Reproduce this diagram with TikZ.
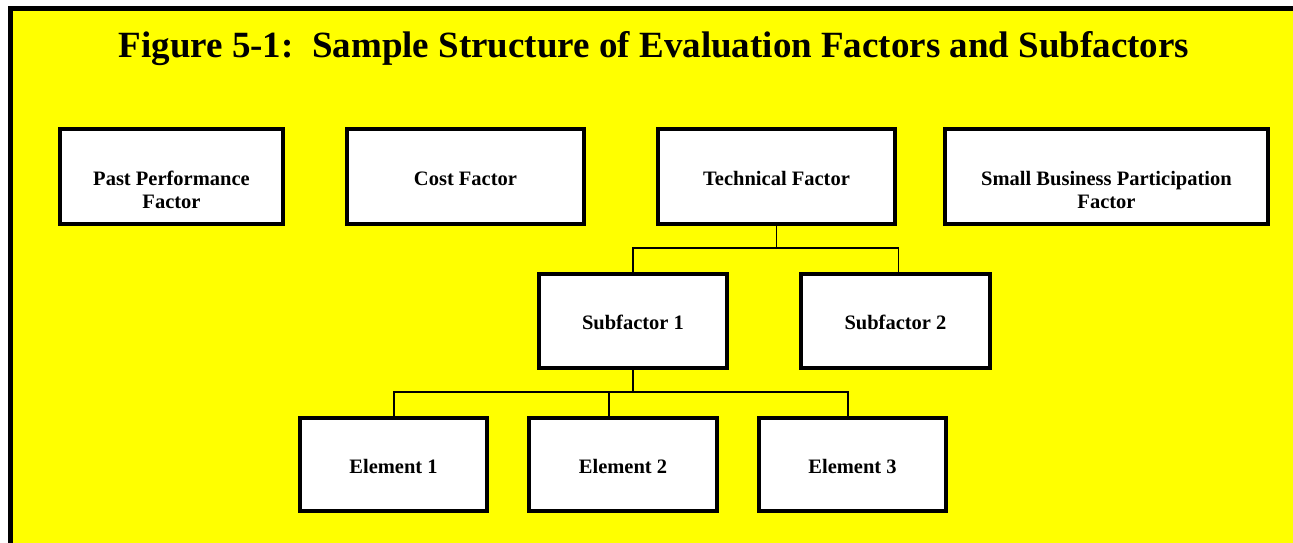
\documentclass[tikz,border=0pt]{standalone}
\usepackage{fontspec}
\setmainfont{Liberation Serif}
\definecolor{bgyellow}{HTML}{FFFF00}
\tikzset{
  box/.style={draw=black, fill=white, line width=4pt, inner sep=0pt, outer sep=0pt, anchor=north west},
  txt/.style={font=\fontsize{20.5}{23.3}\selectfont\bfseries, align=center, inner sep=0pt, anchor=base},
  conn/.style={draw=black, line width=1.4pt},
  ttl/.style={font=\fontsize{37}{40}\selectfont\bfseries, inner sep=0pt, anchor=base}
}
\begin{document}
\begin{tikzpicture}[x=1pt,y=-1pt]
\useasboundingbox (0,0) rectangle (1293,542);
\fill[white] (0,0) rectangle (1293,542);
\begin{scope}
\clip (0,0) rectangle (1293,542);
\draw[line width=5pt, fill=bgyellow] (10,8) rectangle (1320,570);
\end{scope}
\node[ttl] (title) at (654,57) {Figure 5-1:\ \ Sample Structure of Evaluation Factors and Subfactors};
% top row
\node[box, minimum width=223pt, minimum height=95pt] (pp) at (60,129) {};
\node[box, minimum width=237pt, minimum height=95pt] (cost) at (347,129) {};
\node[box, minimum width=237pt, minimum height=95pt] (tech) at (658,129) {};
\node[box, minimum width=323pt, minimum height=95pt] (sb) at (945,129) {};
% subfactors
\node[box, minimum width=188pt, minimum height=94pt] (s1) at (539,274) {};
\node[box, minimum width=189pt, minimum height=94pt] (s2) at (801,274) {};
% elements
\node[box, minimum width=187pt, minimum height=93pt] (e1) at (300,418) {};
\node[box, minimum width=188pt, minimum height=93pt] (e2) at (529,418) {};
\node[box, minimum width=187pt, minimum height=93pt] (e3) at (759,418) {};
% texts (base anchor = baseline of last line)
\node[txt] (tpp) at (171.5,208.3) {Past Performance\\Factor};
\node[txt] (tcost) at (465.5,185) {Cost Factor};
\node[txt] (ttech) at (776.5,185) {Technical Factor};
\node[txt] (tsb) at (1106.5,208.3) {Small Business Participation\\Factor};
\node[txt] (ts1) at (633,329) {Subfactor 1};
\node[txt] (ts2) at (895.5,329) {Subfactor 2};
\node[txt] (te1) at (393.5,473) {Element 1};
\node[txt] (te2) at (623,473) {Element 2};
\node[txt] (te3) at (852.5,473) {Element 3};
% connectors level 1
\coordinate (j1) at (776.5,248);
\coordinate (j1l) at (633,248);
\coordinate (j1r) at (898.7,248);
\draw[conn] (tech.south) -- (j1);
\draw[conn] (s1.north) -- (j1l) -- (j1r) -- (s2.north -| j1r);
% connectors level 2
\coordinate (j2) at (633,392);
\coordinate (j2a) at (394,392);
\coordinate (j2b) at (609,392);
\coordinate (j2c) at (848,392);
\draw[conn] (s1.south) -- (j2);
\draw[conn] (e1.north -| j2a) -- (j2a) -- (j2c) -- (e3.north -| j2c);
\draw[conn] (j2b) -- (e2.north -| j2b);
\end{tikzpicture}
\end{document}
